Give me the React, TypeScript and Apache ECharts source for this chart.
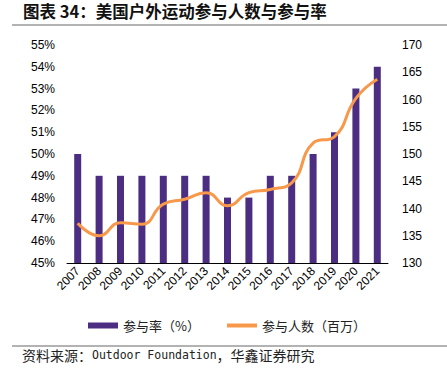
import React, { useEffect, useRef } from "react";
import * as echarts from "echarts";

const years = ["2007","2008","2009","2010","2011","2012","2013","2014","2015","2016","2017","2018","2019","2020","2021"];
const rate = [50,49,49,49,49,49,49,48,48,49,49,50,51,53,54];
const participants = [137.3,135.0,137.4,137.1,140.8,141.7,142.9,140.5,142.9,143.5,144.7,152.0,153.2,160.2,163.7];
const rateName = "参与率（%）";
const peopleName = "参与人数（百万）";

export default function App() {
  const ref = useRef<HTMLDivElement>(null);
  useEffect(() => {
    const chart = echarts.init(ref.current!, null, { renderer: "svg" });
    chart.setOption({
      animation: false,
      backgroundColor: "#fff",
      textStyle: { fontFamily: "Liberation Sans, Arial, sans-serif" },
      graphic: [
        { type: "text", left: 23, top: 3, style: { text: "图表 34：美国户外运动参与人数与参与率", font: "bold 16.5px 'Noto Sans CJK SC'", fill: "#111" } },
        { type: "line", shape: { x1: 12, y1: 25, x2: 447, y2: 25 }, style: { stroke: "#666", lineWidth: 1 } },
        { type: "line", shape: { x1: 12, y1: 346, x2: 447, y2: 346 }, style: { stroke: "#666", lineWidth: 1 } },
        {
          type: "text", left: 22, top: 348,
          style: {
            text: "{c|资料来源：}{l|Outdoor Foundation}{c|，华鑫证券研究}",
            rich: {
              c: { fontFamily: "Noto Sans CJK SC", fontSize: 14, fill: "#222" },
              l: { fontFamily: "DejaVu Sans Mono", fontSize: 11.5, fill: "#222" }
            }
          }
        }
      ],
      legend: {
        top: 319, left: 88, padding: 0, itemWidth: 30, itemHeight: 6, itemGap: 25,
        textStyle: { fontFamily: "Noto Sans CJK SC", fontSize: 13, color: "#222" },
        data: [
          { name: rateName, icon: "rect" },
          { name: peopleName, itemStyle: { opacity: 0 }, lineStyle: { width: 4 } }
        ]
      },
      grid: { left: 67, right: 59, top: 45, bottom: 118 },
      xAxis: {
        type: "category", data: years,
        axisLine: { lineStyle: { color: "#000", width: 1 } },
        axisTick: { inside: true, length: 4, lineStyle: { color: "#000" } },
        axisLabel: { rotate: 45, interval: 0, color: "#000", fontSize: 12, margin: 6 }
      },
      yAxis: [
        {
          type: "value", min: 45, max: 55, interval: 1,
          axisLine: { show: false }, axisTick: { show: false }, splitLine: { show: false },
          axisLabel: { formatter: "{value}%", color: "#000", fontSize: 12, margin: 12 }
        },
        {
          type: "value", min: 130, max: 170, interval: 5,
          axisLine: { show: false }, axisTick: { show: false }, splitLine: { show: false },
          axisLabel: { color: "#000", fontSize: 12, margin: 14 }
        }
      ],
      series: [
        { name: rateName, type: "bar", data: rate, barWidth: 7, itemStyle: { color: "#4B2D82" } },
        {
          name: peopleName, type: "line", yAxisIndex: 1, data: participants, smooth: true,
          symbol: "none", lineStyle: { color: "#F7984A", width: 3 }, itemStyle: { color: "#F7984A" }
        }
      ]
    });
    return () => chart.dispose();
  }, []);
  return <div ref={ref} style={{ width: 447, height: 381, position: "absolute", left: 0, top: 0 }} />;
}
